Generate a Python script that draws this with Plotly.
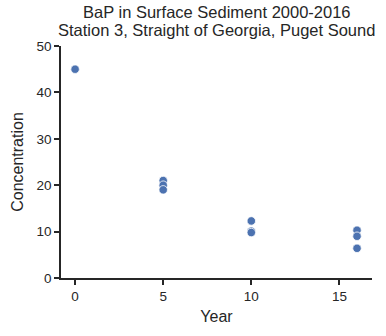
import plotly.graph_objects as go

years = [0, 5, 5, 5, 10, 10, 10, 16, 16, 16]
concentration = [45, 21, 20, 19, 12.3, 10.1, 9.8, 10.3, 9.0, 6.4]
x_ticks = [0, 5, 10, 15]
y_ticks = [0, 10, 20, 30, 40, 50]
title_lines = ["BaP in Surface Sediment 2000-2016",
               "Station 3, Straight of Georgia, Puget Sound"]

fig = go.Figure()
fig.add_trace(go.Scatter(
    x=years, y=concentration, mode="markers",
    marker=dict(size=8.5, color="#4c72b0", line=dict(color="white", width=0.8)),
    showlegend=False,
))

axis_common = dict(
    showline=True, linecolor="#262626", linewidth=1.5,
    ticks="outside", ticklen=5, tickwidth=1.5, tickcolor="#262626",
    showgrid=False, zeroline=False,
    tickfont=dict(family="Liberation Sans, Arial", size=13.5, color="#262626"),
    title_font=dict(family="Liberation Sans, Arial", size=16, color="#262626"),
)

for line, shift in zip(title_lines, [34, 16]):
    fig.add_annotation(
        text=line, xref="paper", yref="paper", x=0.5, y=1.0,
        xanchor="center", yanchor="middle", yshift=shift, showarrow=False,
        font=dict(family="Liberation Sans, Arial", size=16.5, color="#262626"),
    )

fig.update_layout(
    width=386, height=336,
    margin=dict(l=61, r=14, t=46, b=58),
    plot_bgcolor="white", paper_bgcolor="white",
    xaxis=dict(range=[-0.8, 16.85], tickvals=x_ticks, title=dict(text="Year", standoff=8), **axis_common),
    yaxis=dict(range=[0, 50], tickvals=y_ticks, title=dict(text="Concentration", standoff=9), **axis_common),
)

fig.write_html("out.html")
